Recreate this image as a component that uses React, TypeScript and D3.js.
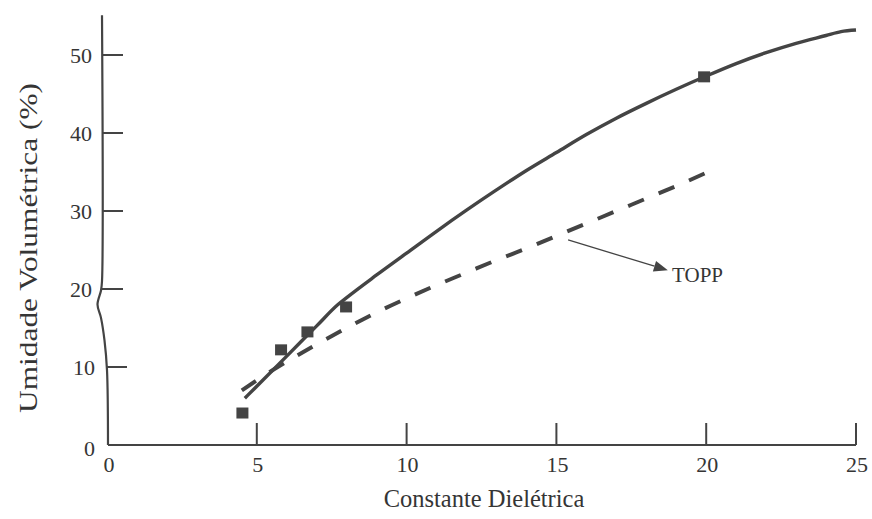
import { useEffect, useRef } from 'react'
import * as d3 from 'd3'

// measured points (squares)
const measX = [4.52, 5.81, 6.69, 7.98, 19.93]
const measY = [4.1, 12.2, 14.5, 17.7, 47.2]

// fitted curve (solid)
const fitX = [4.6, 5, 6, 7, 7.7, 8, 9, 10, 11, 12, 13, 14, 15, 16, 17, 18, 19, 20, 21, 22, 23, 24, 24.5, 25]
const fitY = [6.0, 7.54, 11.4, 15.27, 17.97, 18.9, 21.8, 24.6, 27.4, 30.1, 32.7, 35.2, 37.5, 39.8, 41.9, 43.8, 45.6, 47.3, 48.9, 50.3, 51.5, 52.5, 53.0, 53.2]

// Topp equation (dashed)
const toppX = [4.5, 5, 6, 7, 8, 9, 10, 11, 12, 13, 14, 15, 16, 17, 18, 19, 20]
const toppY = [7.0, 8.3, 10.7, 12.9, 15.0, 17.0, 18.8, 20.5, 22.1, 23.7, 25.2, 26.8, 28.4, 30.0, 31.6, 33.2, 34.9]

const xTicks = [5, 10, 15, 20, 25]
const yTicks = [10, 20, 30, 40, 50]

const width = 872
const height = 519
const ink = '#444'
const textInk = '#353535'
const font = 'Liberation Serif, Times New Roman, serif'

export default function App() {
  const svgRef = useRef<SVGSVGElement>(null)

  useEffect(() => {
    if (!svgRef.current) return
    const svg = d3.select(svgRef.current)
    svg.selectAll('*').remove()

    const x = d3.scaleLinear().domain([0, 25]).range([107, 856])
    const y = d3.scaleLinear().domain([0, 50]).range([445, 55])
    const x0 = x(0)

    svg.append('rect').attr('width', width).attr('height', height).attr('fill', '#fff')

    // y axis with break mark
    const axisPts: [number, number][] = [
      [-5, 55.1], [-5, 21.0], [-6, 19.8], [-9.5, 18.0], [-6, 16.3], [-2.5, 13.4], [0, 9.6], [1, 0]
    ]
    svg.append('path')
      .attr('d', d3.line<[number, number]>()
        .x(d => x0 + d[0])
        .y(d => y(d[1]))
        .curve(d3.curveCatmullRom)(axisPts))
      .attr('fill', 'none')
      .attr('stroke', ink)
      .attr('stroke-width', 2.2)

    // x axis
    svg.append('line')
      .attr('x1', x0 + 1).attr('x2', x(25))
      .attr('y1', y(0)).attr('y2', y(0))
      .attr('stroke', ink).attr('stroke-width', 2.2)

    xTicks.forEach(t => {
      svg.append('line')
        .attr('x1', x(t)).attr('x2', x(t))
        .attr('y1', y(0)).attr('y2', y(0) - 22)
        .attr('stroke', ink).attr('stroke-width', 2)
    })
    ;[0, ...xTicks].forEach(t => {
      svg.append('text')
        .attr('x', x(t) + (t === 0 ? 2 : 1))
        .attr('y', 472)
        .attr('text-anchor', 'middle')
        .style('font-family', font)
        .style('font-size', '22px')
        .style('fill', textInk)
        .text(t)
    })

    yTicks.forEach(t => {
      const sx = t <= 10 ? x0 - 1 : x0 - 5
      svg.append('line')
        .attr('x1', sx).attr('x2', sx + 21)
        .attr('y1', y(t)).attr('y2', y(t))
        .attr('stroke', ink).attr('stroke-width', 2)
    })
    ;[0, ...yTicks].forEach(t => {
      svg.append('text')
        .attr('x', t <= 10 ? 95 : 92)
        .attr('y', y(t) + 8 + (t === 0 ? 3 : 0))
        .attr('text-anchor', 'end')
        .style('font-family', font)
        .style('font-size', '22px')
        .style('fill', textInk)
        .text(t)
    })

    // Topp dashed curve
    const topp = toppX.map((v, i) => [v, toppY[i]] as [number, number])
    svg.append('path')
      .attr('d', d3.line<[number, number]>()
        .x(d => x(d[0])).y(d => y(d[1]))
        .curve(d3.curveMonotoneX)(topp))
      .attr('fill', 'none')
      .attr('stroke', ink)
      .attr('stroke-width', 4)
      .attr('stroke-dasharray', '17 16')

    // fitted solid curve
    const fit = fitX.map((v, i) => [v, fitY[i]] as [number, number])
    svg.append('path')
      .attr('d', d3.line<[number, number]>()
        .x(d => x(d[0])).y(d => y(d[1]))
        .curve(d3.curveMonotoneX)(fit))
      .attr('fill', 'none')
      .attr('stroke', ink)
      .attr('stroke-width', 3.4)
      .attr('stroke-linejoin', 'round')

    // measured squares
    measX.forEach((v, i) => {
      svg.append('rect')
        .attr('x', x(v) - 6).attr('y', y(measY[i]) - 5.5)
        .attr('width', 12).attr('height', 11)
        .attr('fill', '#444')
    })

    // TOPP annotation arrow
    const ax1 = x(15.39), ay1 = y(26.3)
    const ax2 = x(18.72), ay2 = y(22.4)
    const ang = Math.atan2(ay2 - ay1, ax2 - ax1)
    const hl = 14, hw = 5.5
    const bx = ax2 - hl * Math.cos(ang), by = ay2 - hl * Math.sin(ang)
    svg.append('line')
      .attr('x1', ax1).attr('y1', ay1).attr('x2', bx).attr('y2', by)
      .attr('stroke', ink).attr('stroke-width', 1.3)
    svg.append('path')
      .attr('d', `M${ax2},${ay2}L${bx - hw * Math.sin(ang)},${by + hw * Math.cos(ang)}L${bx + hw * Math.sin(ang)},${by - hw * Math.cos(ang)}Z`)
      .attr('fill', ink)
    svg.append('text')
      .attr('x', x(18.86)).attr('y', y(20.9))
      .style('font-family', font)
      .style('font-size', '21px')
      .style('fill', textInk)
      .text('TOPP')

    // axis titles
    svg.append('text')
      .attr('x', 484).attr('y', 507)
      .attr('text-anchor', 'middle')
      .style('font-family', font)
      .style('font-size', '24.5px')
      .style('fill', textInk)
      .text('Constante Dielétrica')

    svg.append('text')
      .attr('transform', 'translate(37,248) rotate(-90)')
      .attr('text-anchor', 'middle')
      .attr('textLength', 330)
      .attr('lengthAdjust', 'spacingAndGlyphs')
      .style('font-family', font)
      .style('font-size', '25px')
      .style('fill', textInk)
      .text('Umidade Volumétrica (%)')
  }, [])

  return (
    <svg ref={svgRef} width={width} height={height}
      style={{ position: 'absolute', left: 0, top: 0, display: 'block' }} />
  )
}
